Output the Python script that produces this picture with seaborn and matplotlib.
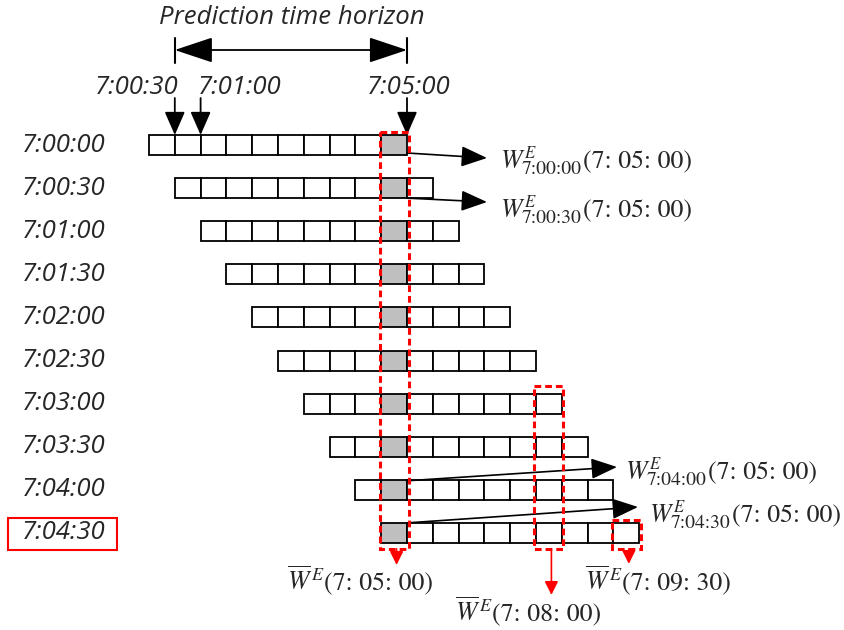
import matplotlib
matplotlib.use("Agg")
import matplotlib.pyplot as plt
import seaborn as sns
from matplotlib.patches import Rectangle

sns.set_theme(style="white")
plt.rcParams["font.family"] = ["Open Sans", "DejaVu Sans"]
plt.rcParams["mathtext.fontset"] = "stix"

# ---------------- data ----------------
row_labels = ["7:00:00", "7:00:30", "7:01:00", "7:01:30", "7:02:00",
              "7:02:30", "7:03:00", "7:03:30", "7:04:00", "7:04:30"]
row_shift = [0, 1, 2, 3, 4, 5, 6, 7, 8, 9]      # start cell of each row
cells_per_row = 10
gray_col = 9                                    # cell predicting 7:05:00
target_time = "7: 05: 00"
top_marks = ["7:00:30", "7:01:00", "7:05:00"]
top_mark_cols = [1, 2, 10]                      # cell boundary indices
horizon_cols = [1, 10]
annot_rows = [0, 1, 8, 9]
avg_cols = [9, 15, 18]
avg_first_row = [0, 6, 9]
avg_labels = ["7: 05: 00", "7: 08: 00", "7: 09: 30"]
highlight_row = 9

# ---------------- layout ----------------
X0, CW = 149.0, 25.8
Y0, DY, CH = 145.0, 43.1, 20.0

def cx(k):
    return X0 + k * CW

def cy(r):
    return Y0 + r * DY

fig = plt.figure(figsize=(8.45, 6.3), dpi=100)
ax = fig.add_axes([0, 0, 1, 1])
ax.set_xlim(0, 845)
ax.set_ylim(630, 0)
ax.axis("off")
renderer = fig.canvas.get_renderer()

lab_font = dict(family=["Open Sans", "DejaVu Sans"], style="italic", size=18.5)
MSIZE = 18.5


def width(t):
    return t.get_window_extent(renderer).width


def compose(x, y, sup, sub, rest, bar=False, sup_size=12.0):
    base = r"$\overline{W}$" if bar else r"$W$"
    t = ax.text(x, y, base, size=MSIZE, va="baseline", ha="left")
    w = width(t)
    ws = []
    if sup:
        ts = ax.text(x + w - 1, y - 10, sup, size=sup_size, style="italic",
                     family="STIXGeneral", va="baseline", ha="left")
        ws.append(width(ts) - 1)
    if sub:
        tb = ax.text(x + w - 4, y + 6, sub, size=14, family="STIXGeneral",
                     va="baseline", ha="left")
        ws.append(width(tb) - 4)
    nx = x + w + max(ws) + 2
    ax.text(nx, y, "(" + rest + ")", size=MSIZE, family="STIXGeneral",
            va="baseline", ha="left")


# rows of cells
for r, lab in enumerate(row_labels):
    for c in range(cells_per_row):
        k = row_shift[r] + c
        fc = "#bfbfbf" if k == gray_col else "white"
        ax.add_patch(Rectangle((cx(k), cy(r) - CH / 2), CW, CH, fc=fc,
                               ec="black", lw=1.3, zorder=2))
    ax.text(22, cy(r), lab, ha="left", va="center", **lab_font)

# highlighted row label box
ax.add_patch(Rectangle((8, cy(highlight_row) - 15), 109, 32, fill=False,
                       ec="red", lw=1.5, zorder=3))

# top horizon arrow
hx0, hx1 = cx(horizon_cols[0]), cx(horizon_cols[1])
ax.annotate("", xy=(hx1, 50), xytext=(hx0, 50),
            arrowprops=dict(arrowstyle="<|-|>,head_length=1.5,head_width=0.5",
                            mutation_scale=16, color="black", lw=1.3,
                            shrinkA=0, shrinkB=0))
for hx in (hx0, hx1):
    ax.plot([hx, hx], [38, 63], color="black", lw=1.5)
ax.text((hx0 + hx1) / 2 + 1, 17, "Prediction time horizon", ha="center",
        va="center", **lab_font)

# top marks
mark_text_x = [137, 240, 409]
for lab, k, tx in zip(top_marks, top_mark_cols, mark_text_x):
    ax.text(tx, 87, lab, ha="center", va="center", **lab_font)
    ax.annotate("", xy=(cx(k), cy(0) - CH / 2), xytext=(cx(k), 98),
                arrowprops=dict(arrowstyle="-|>,head_length=0.8,head_width=0.35",
                                mutation_scale=18, color="black", lw=1.3,
                                shrinkA=0, shrinkB=0))

# annotation arrows from gray cells
arrow_start_dy = [8, 10, -9, -10]
arrow_end = [(487, 158), (487, 202), (617, 467), (638, 507)]
text_pos = [(500, 168), (500, 217), (625, 479), (649, 522)]
for r, sdy, (ex, ey), (tx, ty) in zip(annot_rows, arrow_start_dy, arrow_end, text_pos):
    ax.annotate("", xy=(ex, ey), xytext=(cx(gray_col + 1), cy(r) + sdy),
                arrowprops=dict(arrowstyle="-|>,head_length=1.0,head_width=0.4",
                                mutation_scale=16, color="black", lw=1.2,
                                shrinkA=0, shrinkB=0), zorder=4)
    compose(tx, ty, "E", row_labels[r], target_time)

# red dashed boxes and averaged outputs
avg_text = [(287, 590), (455, 621), (585, 590)]
avg_arrow_len = [16, 46, 15]
bottom = cy(len(row_labels) - 1) + CH / 2 + 6
for k, r0, lab, (tx, ty), al in zip(avg_cols, avg_first_row, avg_labels,
                                      avg_text, avg_arrow_len):
    top = cy(r0) - CH / 2 - (8 if r0 == 6 else 3)
    ax.add_patch(Rectangle((cx(k) - 1.5, top), CW + 3, bottom - top,
                           fill=False, ec="red", lw=2.2,
                           ls=(0, (2.2, 1.3)), zorder=5))
    mx = cx(k) + CW / 2 + 2.5
    ax.annotate("", xy=(mx, bottom + al), xytext=(mx, bottom),
                arrowprops=dict(arrowstyle="-|>,head_length=0.9,head_width=0.45",
                                mutation_scale=9, color="red", lw=1.2,
                                shrinkA=0, shrinkB=0))
    compose(tx, ty, "E", None, lab, bar=True, sup_size=13)

fig.savefig("out.png", dpi=100)
